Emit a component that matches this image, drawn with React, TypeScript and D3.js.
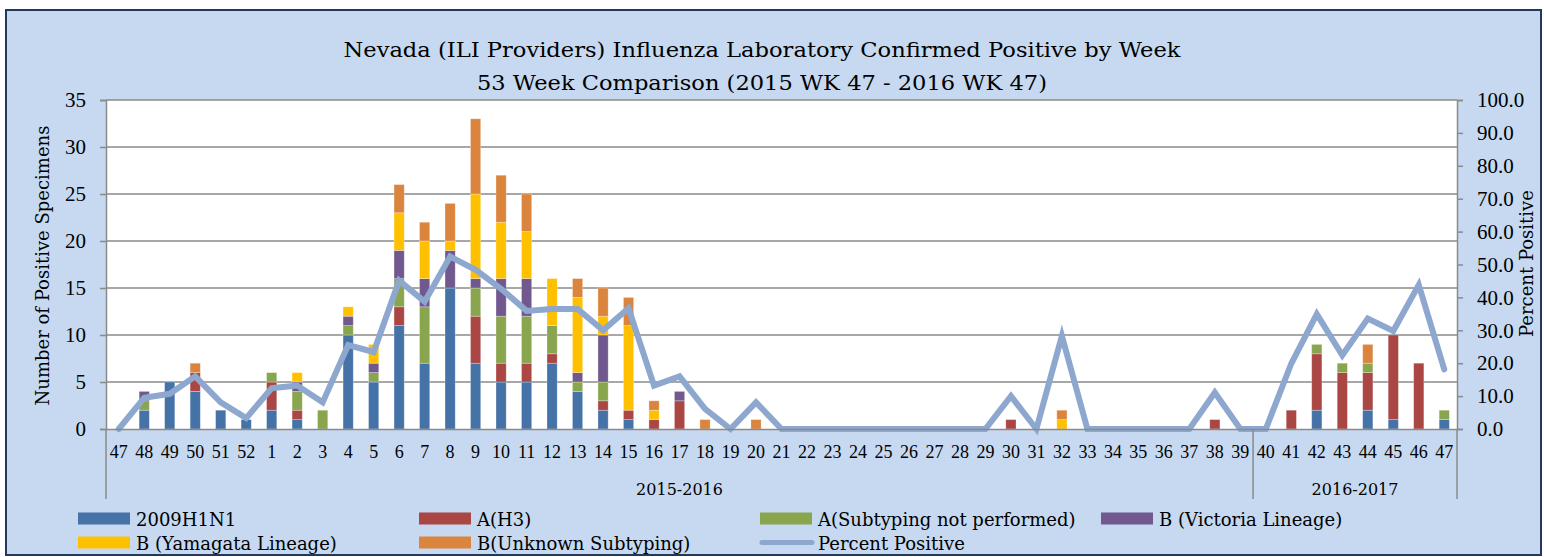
import { useEffect, useRef } from "react";
import * as d3 from "d3";

// week labels, 2015 WK 47 .. 2016 WK 47
const weeks = [
  "47", "48", "49", "50", "51", "52",
  "1", "2", "3", "4", "5", "6", "7", "8", "9", "10", "11", "12", "13", "14", "15", "16", "17", "18", "19", "20",
  "21", "22", "23", "24", "25", "26", "27", "28", "29", "30", "31", "32", "33", "34", "35", "36", "37", "38", "39",
  "40", "41", "42", "43", "44", "45", "46", "47",
];

const h1n1 = [
  0, 2, 5, 4, 2, 1,
  2, 1, 0, 10, 5, 11, 7, 15, 7, 5, 5, 7, 4, 2, 1, 0, 0, 0, 0, 0,
  0, 0, 0, 0, 0, 0, 0, 0, 0, 0, 0, 0, 0, 0, 0, 0, 0, 0, 0,
  0, 0, 2, 0, 2, 1, 0, 1,
];
const h3 = [
  0, 0, 0, 2, 0, 0,
  3, 1, 0, 0, 0, 2, 0, 0, 5, 2, 2, 1, 0, 1, 1, 1, 3, 0, 0, 0,
  0, 0, 0, 0, 0, 0, 0, 0, 0, 1, 0, 0, 0, 0, 0, 0, 0, 1, 0,
  0, 2, 6, 6, 4, 9, 7, 0,
];
const aNotSubtyped = [
  0, 1, 0, 0, 0, 0,
  1, 2, 2, 1, 1, 3, 6, 0, 3, 5, 5, 3, 1, 2, 0, 0, 0, 0, 0, 0,
  0, 0, 0, 0, 0, 0, 0, 0, 0, 0, 0, 0, 0, 0, 0, 0, 0, 0, 0,
  0, 0, 1, 1, 1, 0, 0, 1,
];
const bVictoria = [
  0, 1, 0, 0, 0, 0,
  0, 1, 0, 1, 1, 3, 3, 4, 1, 4, 4, 0, 1, 5, 0, 0, 1, 0, 0, 0,
  0, 0, 0, 0, 0, 0, 0, 0, 0, 0, 0, 0, 0, 0, 0, 0, 0, 0, 0,
  0, 0, 0, 0, 0, 0, 0, 0,
];
const bYamagata = [
  0, 0, 0, 0, 0, 0,
  0, 1, 0, 1, 2, 4, 4, 1, 9, 6, 5, 5, 8, 2, 9, 1, 0, 0, 0, 0,
  0, 0, 0, 0, 0, 0, 0, 0, 0, 0, 0, 1, 0, 0, 0, 0, 0, 0, 0,
  0, 0, 0, 0, 0, 0, 0, 0,
];
const bUnknown = [
  0, 0, 0, 1, 0, 0,
  0, 0, 0, 0, 0, 3, 2, 4, 8, 5, 4, 0, 2, 3, 3, 1, 0, 1, 0, 1,
  0, 0, 0, 0, 0, 0, 0, 0, 0, 0, 0, 1, 0, 0, 0, 0, 0, 0, 0,
  0, 0, 0, 0, 2, 0, 0, 0,
];
const percentPositive = [
  0, 9.5, 10.7, 16.0, 8.1, 3.3,
  12.4, 13.2, 8.1, 25.5, 23.4, 45.1, 38.7, 52.4, 48.4, 42.6, 35.9, 36.5, 36.5, 30.0, 36.7, 13.2, 16.0, 6.1, 0, 8.1,
  0, 0, 0, 0, 0, 0, 0, 0, 0, 10.0, 0, 28.3, 0, 0, 0, 0, 0, 11.1, 0,
  0, 19.9, 34.9, 22.4, 33.6, 29.8, 43.8, 18.1,
];

const seriesNames = [
  "2009H1N1",
  "A(H3)",
  "A(Subtyping not performed)",
  "B (Victoria Lineage)",
  "B (Yamagata Lineage)",
  "B(Unknown Subtyping)",
];
const seriesColors = ["#4572A7", "#AA4643", "#89A54E", "#71588F", "#FFC000", "#DB843D"];
const lineName = "Percent Positive";
const lineColor = "#8DA7CE";

const leftTicks = [0, 5, 10, 15, 20, 25, 30, 35];
const rightTicks = [0, 10, 20, 30, 40, 50, 60, 70, 80, 90, 100];
const seasons = [
  { label: "2015-2016", from: 0, to: 44 },
  { label: "2016-2017", from: 45, to: 52 },
];

const TICKFONT = "'Liberation Serif', serif";
const FONT = "'DejaVu Serif', serif";

function App() {
  const ref = useRef(null);

  useEffect(() => {
    const svg = d3.select(ref.current);
    svg.selectAll("*").remove();

    const W = 1544, H = 557;
    const left = 106, right = 1457, top = 100, bottom = 429;

    // chart area background + border
    svg.append("rect").attr("width", W).attr("height", H).attr("fill", "#fff");
    svg.append("rect")
      .attr("x", 6).attr("y", 10).attr("width", 1535).attr("height", 545)
      .attr("fill", "#C6D9F1").attr("stroke", "#22385C").attr("stroke-width", 2);

    const x = d3.scaleBand().domain(d3.range(weeks.length).map(String)).range([left, right]).paddingInner(0.6).paddingOuter(0.3);
    const y = d3.scaleLinear().domain([0, 35]).range([bottom, top]);
    const y2 = d3.scaleLinear().domain([0, 100]).range([bottom, top]);

    // plot area
    svg.append("rect").attr("x", left).attr("y", top).attr("width", right - left).attr("height", bottom - top).attr("fill", "#fff");

    // gridlines
    svg.append("g").selectAll("line").data(leftTicks.slice(1)).join("line")
      .attr("x1", left).attr("x2", right)
      .attr("y1", (d) => y(d)).attr("y2", (d) => y(d))
      .attr("stroke", "#8A8A8A").attr("stroke-width", 1.5);

    // stacked bars
    const table = weeks.map((w, i) => ({
      key: String(i),
      s0: h1n1[i], s1: h3[i], s2: aNotSubtyped[i], s3: bVictoria[i], s4: bYamagata[i], s5: bUnknown[i],
    }));
    const stack = d3.stack().keys(["s0", "s1", "s2", "s3", "s4", "s5"])(table);
    svg.append("g").selectAll("g").data(stack).join("g")
      .attr("fill", (d, i) => seriesColors[i])
      .selectAll("rect").data((d) => d.filter((p) => p[1] > p[0])).join("rect")
      .attr("x", (d) => x(d.data.key))
      .attr("width", x.bandwidth())
      .attr("y", (d) => y(d[1]))
      .attr("height", (d) => y(d[0]) - y(d[1]))
      .attr("stroke", "rgba(255,255,255,0.35)").attr("stroke-width", 0.8);

    // percent positive line
    const line = d3.line()
      .x((d, i) => x(String(i)) + x.bandwidth() / 2)
      .y((d) => y2(d));
    svg.append("path").datum(percentPositive)
      .attr("d", line)
      .attr("fill", "none").attr("stroke", lineColor).attr("stroke-width", 6)
      .attr("stroke-linejoin", "miter").attr("stroke-linecap", "round");

    // left axis
    const axL = svg.append("g").attr("transform", `translate(${left},0)`)
      .call(d3.axisLeft(y).tickValues(leftTicks).tickSize(6).tickPadding(14));
    axL.select(".domain").attr("stroke", "#8A8A8A").attr("stroke-width", 1.5);
    axL.selectAll(".tick line").attr("stroke", "#8A8A8A").attr("stroke-width", 1.5);
    axL.selectAll("text").attr("font-family", TICKFONT).attr("font-size", 21).attr("fill", "#000");

    // right axis
    const axR = svg.append("g").attr("transform", `translate(${right},0)`)
      .call(d3.axisRight(y2).tickValues(rightTicks).tickFormat(d3.format(".1f")).tickSize(6).tickPadding(14));
    axR.select(".domain").attr("stroke", "#8A8A8A").attr("stroke-width", 1.5);
    axR.selectAll(".tick line").attr("stroke", "#8A8A8A").attr("stroke-width", 1.5);
    axR.selectAll("text").attr("font-family", TICKFONT).attr("font-size", 21).attr("fill", "#000");

    // bottom axis (week labels)
    const axB = svg.append("g").attr("transform", `translate(0,${bottom})`)
      .call(d3.axisBottom(x).tickFormat((d) => weeks[+d]).tickSize(0).tickPadding(16));
    axB.select(".domain").attr("stroke", "#8A8A8A").attr("stroke-width", 1.5);
    axB.selectAll("text").attr("font-family", TICKFONT).attr("font-size", 18).attr("fill", "#000");

    // season grouping separators and labels
    const edge = (i) => left + ((right - left) * i) / weeks.length;
    const seps = [0, 45, 53];
    svg.append("g").selectAll("line").data(seps).join("line")
      .attr("x1", (d) => edge(d)).attr("x2", (d) => edge(d))
      .attr("y1", bottom).attr("y2", 499)
      .attr("stroke", "#8A8A8A").attr("stroke-width", 1.5);
    svg.append("g").selectAll("text").data(seasons).join("text")
      .attr("x", (d) => (edge(d.from) + edge(d.to + 1)) / 2)
      .attr("y", 495)
      .attr("text-anchor", "middle")
      .attr("font-family", FONT).attr("font-size", 16)
      .text((d) => d.label);

    // titles
    svg.append("text").attr("x", 762).attr("y", 57).attr("text-anchor", "middle")
      .attr("font-family", FONT).attr("font-size", 21)
      .attr("textLength", 837).attr("lengthAdjust", "spacingAndGlyphs")
      .text("Nevada (ILI Providers) Influenza Laboratory Confirmed Positive by Week");
    svg.append("text").attr("x", 762).attr("y", 90).attr("text-anchor", "middle")
      .attr("font-family", FONT).attr("font-size", 21)
      .attr("textLength", 570).attr("lengthAdjust", "spacingAndGlyphs")
      .text("53 Week Comparison (2015 WK 47 - 2016 WK 47)");

    svg.append("text")
      .attr("transform", `translate(49,${(top + bottom) / 2 + 1}) rotate(-90)`)
      .attr("text-anchor", "middle")
      .attr("font-family", FONT).attr("font-size", 18)
      .text("Number of Positive Specimens");
    svg.append("text")
      .attr("transform", `translate(1533,${(top + bottom) / 2 - 1}) rotate(-90)`)
      .attr("text-anchor", "middle")
      .attr("font-family", FONT).attr("font-size", 18)
      .text("Percent Positive");

    // legend
    const legendItems = seriesNames.map((n, i) => ({ name: n, color: seriesColors[i], kind: "bar" }));
    legendItems.push({ name: lineName, color: lineColor, kind: "line" });
    const colX = [78, 419, 760, 1101];
    const rowY = [518.5, 542.5];
    const lg = svg.append("g").selectAll("g").data(legendItems).join("g")
      .attr("transform", (d, i) => `translate(${colX[i % 4]},${rowY[Math.floor(i / 4)]})`);
    lg.filter((d) => d.kind === "bar").append("rect")
      .attr("x", 0).attr("y", -6).attr("width", 52).attr("height", 12).attr("fill", (d) => d.color);
    lg.filter((d) => d.kind === "line").append("line")
      .attr("x1", 2).attr("x2", 52).attr("y1", 0).attr("y2", 0)
      .attr("stroke", (d) => d.color).attr("stroke-width", 5).attr("stroke-linecap", "round");
    lg.append("text")
      .attr("x", 58).attr("y", 7)
      .attr("font-family", FONT).attr("font-size", 18)
      .text((d) => d.name);
  }, []);

  return <svg ref={ref} width={1544} height={557} style={{ position: "absolute", left: 0, top: 0 }} />;
}

export default App;
